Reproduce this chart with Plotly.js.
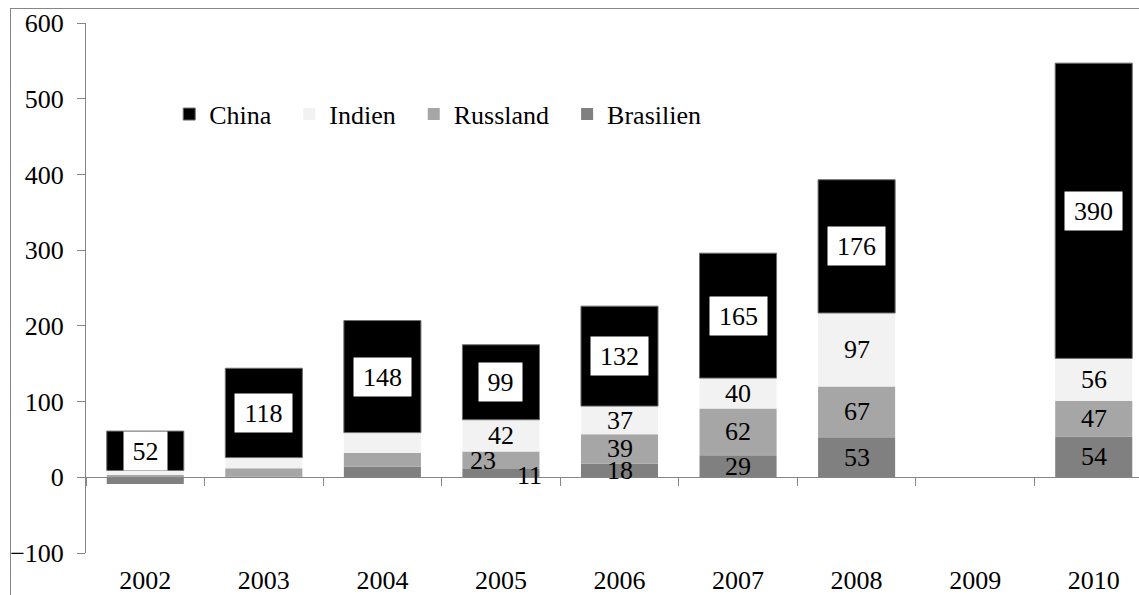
<!DOCTYPE html>
<html>
<head>
<meta charset="utf-8">
<script src="https://cdn.plot.ly/plotly-3.0.1.min.js"></script>
<style>
  html, body { margin: 0; padding: 0; background: #ffffff; overflow: hidden; width: 1139px; height: 595px; }
  #chart { position: absolute; left: 10px; top: 8px; border-left: 1px solid #868686; border-top: 1px solid #868686; }
</style>
</head>
<body>
<div id="chart"></div>
<script>
// ---- data ----
const years = ["2002", "2003", "2004", "2005", "2006", "2007", "2008", "2009", "2010"];
const brasilien = [-9, 1, 14, 11, 18, 29, 53, null, 54];
const russland  = [3, 11, 18, 23, 39, 62, 67, null, 47];
const indien    = [6, 14, 27, 42, 37, 40, 97, null, 56];
const china     = [52, 118, 148, 99, 132, 165, 176, null, 390];

// which data labels are shown in the reference (null = no label)
const labelBrasilien = [null, null, null, 11, 18, 29, 53, null, 54];
const labelRussland  = [null, null, null, 23, 39, 62, 67, null, 47];
const labelIndien    = [null, null, null, 42, 37, 40, 97, null, 56];
const labelChina     = [52, 118, 148, 99, 132, 165, 176, null, 390];

const seriesNames = ["Brasilien", "Russland", "Indien", "China"];

// ---- styles ----
const FONT = '"Liberation Serif", "Times New Roman", serif';
const colors = { Brasilien: "#808080", Russland: "#a6a6a6", Indien: "#f2f2f2", China: "#000000" };
const AXIS = "#868686";
const LEGEND_PAD = "\u00a0\u00a0"; // extra spacing after each legend entry (style)
// small label nudges (style only) to mimic the reference placement
const nudge = { "Russland|2005": { xshift: -18, yshift: 0 }, "Brasilien|2005": { xshift: 29, yshift: -2 } };

const values = { Brasilien: brasilien, Russland: russland, Indien: indien, China: china };
const labels = { Brasilien: labelBrasilien, Russland: labelRussland, Indien: labelIndien, China: labelChina };

const traces = seriesNames.map(name => ({
  type: "bar",
  name: name + LEGEND_PAD,
  x: years,
  y: values[name],
  marker: { color: colors[name], line: name === "China" ? { color: "#6e6e6e", width: 1 } : { width: 0 } },
  legendrank: { China: 1, Indien: 2, Russland: 3, Brasilien: 4 }[name],
  hoverinfo: "x+y+name"
}));

// annotations at segment centers, computed from the data (x given as category index)
const annotations = [];
years.forEach((yr, i) => {
  let posBase = 0, negBase = 0;
  seriesNames.forEach(name => {
    const v = values[name][i];
    if (v === null || v === undefined) return;
    let mid;
    if (v >= 0) { mid = posBase + v / 2; posBase += v; }
    else { mid = negBase + v / 2; negBase += v; }
    const lab = labels[name][i];
    if (lab === null) return;
    const txt = String(lab);
    const a = {
      x: i, y: mid, xref: "x", yref: "y",
      text: txt, showarrow: false,
      font: { family: FONT, size: 26, color: "#000000" }
    };
    if (name === "China") {
      a.bgcolor = "#ffffff";
      a.borderpad = 0;
      a.width = 14 * txt.length + 15;
      a.height = 38;
    }
    const n = nudge[name + "|" + yr];
    if (n) { a.xshift = n.xshift; a.yshift = n.yshift; }
    annotations.push(a);
  });
});

const layout = {
  width: 1162,
  height: 594,
  margin: { l: 75, r: 20, t: 14, b: 50 },
  paper_bgcolor: "#ffffff",
  plot_bgcolor: "#ffffff",
  barmode: "relative",
  bargap: 0.35,
  font: { family: FONT, size: 26, color: "#000000" },
  showlegend: true,
  legend: {
    orientation: "h",
    x: 0.078, xanchor: "left",
    y: 0.828, yanchor: "middle",
    font: { family: FONT, size: 26, color: "#000000" },
    bgcolor: "rgba(0,0,0,0)",
    traceorder: "normal",
    itemwidth: 30
  },
  xaxis: {
    type: "category",
    categoryorder: "array",
    categoryarray: years,
    range: [-0.5, years.length - 0.5],
    autorange: false,
    anchor: "free",
    position: 100 / 700,
    showline: true,
    linecolor: AXIS,
    linewidth: 1,
    ticks: "outside",
    tickson: "boundaries",
    ticklen: 8,
    tickcolor: AXIS,
    tickwidth: 1,
    showgrid: false,
    zeroline: false,
    tickangle: 0,
    tickfont: { family: FONT, size: 26, color: "#000000" },
    ticklabelstandoff: 80
  },
  yaxis: {
    range: [-100, 600],
    autorange: false,
    dtick: 100,
    tick0: 0,
    showline: true,
    linecolor: AXIS,
    linewidth: 1,
    ticks: "outside",
    ticklen: 8,
    tickcolor: AXIS,
    tickwidth: 1,
    showgrid: false,
    zeroline: false,
    tickfont: { family: FONT, size: 26, color: "#000000" },
    ticklabelstandoff: 8
  },
  annotations: annotations
};

Plotly.newPlot("chart", traces, layout, { displayModeBar: false, staticPlot: true });
</script>
</body>
</html>
